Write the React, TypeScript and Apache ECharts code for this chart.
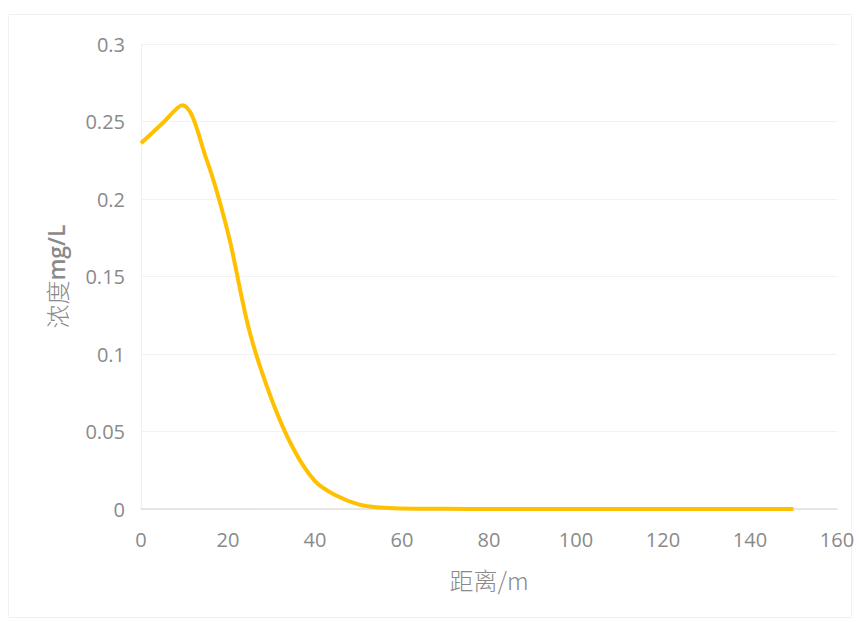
import React, { useEffect, useRef } from "react";
import * as echarts from "echarts";

const distances = [0, 5, 9.5, 15, 20, 25, 30, 35, 40, 45, 50, 55, 60, 70, 80, 90, 100, 110, 120, 130, 140, 150];
const concentrations = [0.236, 0.249, 0.2605, 0.226, 0.178, 0.114, 0.071, 0.039, 0.018, 0.0085, 0.003, 0.0009, 0.0003, 0.0001, 0, 0, 0, 0, 0, 0, 0, 0];
const xTicks = { min: 0, max: 160, interval: 20 };
const yTicks = { min: 0, max: 0.3, interval: 0.05 };
const xName = "距离/m";
const yNameCn = "浓度";
const yNameUnit = "mg/L";

export default function App() {
  const ref = useRef<HTMLDivElement>(null);
  useEffect(() => {
    if (!ref.current) return;
    const chart = echarts.init(ref.current, undefined, { renderer: "svg" });
    const data = distances.map((d, i) => [d, concentrations[i]]);
    const gray = "#8a8a8a";
    const labelFont = { color: gray, fontSize: 20, fontFamily: "'Open Sans', 'Noto Sans', sans-serif" };
    chart.setOption({
      animation: false,
      backgroundColor: "#ffffff",
      graphic: [
        {
          type: "rect",
          shape: { x: 8.5, y: 14.5, width: 843, height: 603 },
          style: { fill: "none", stroke: "#f0f0f0", lineWidth: 1 },
          silent: true,
        },
      ],
      grid: { left: 141, right: 22, top: 44, bottom: 113, containLabel: false },
      xAxis: {
        type: "value",
        min: xTicks.min,
        max: xTicks.max,
        interval: xTicks.interval,
        name: xName,
        nameLocation: "middle",
        nameGap: 58,
        nameTextStyle: { color: gray, fontSize: 24, fontWeight: 300, fontFamily: "'Noto Sans CJK SC', 'Open Sans', sans-serif" },
        axisLine: { show: true, lineStyle: { color: "#e0e0e0", width: 1.5 } },
        axisTick: { show: false },
        axisLabel: { ...labelFont, margin: 20 },
        splitLine: { show: false },
      },
      yAxis: {
        type: "value",
        min: yTicks.min,
        max: yTicks.max,
        interval: yTicks.interval,
        name: "{a|" + yNameCn + "}{b|" + yNameUnit + "}",
        nameLocation: "middle",
        nameGap: 73,
        nameTextStyle: {
          color: gray,
          fontSize: 24,
          rich: {
            a: { color: gray, fontSize: 24, fontWeight: 300, fontFamily: "'Noto Sans CJK SC', sans-serif" },
            b: { color: gray, fontSize: 23, fontWeight: 600, fontFamily: "'Open Sans', sans-serif" },
          },
        },
        axisLine: { show: true, lineStyle: { color: "#f0f0f0", width: 1 } },
        axisTick: { show: false },
        axisLabel: { ...labelFont, margin: 16 },
        splitLine: { show: true, lineStyle: { color: "#f2f2f2", width: 1 } },
      },
      series: [
        {
          type: "line",
          data,
          smooth: 0.35,
          showSymbol: false,
          symbol: "none",
          lineStyle: { color: "#FFC000", width: 4 },
          itemStyle: { color: "#FFC000" },
        },
      ],
    });
    return () => chart.dispose();
  }, []);
  return <div ref={ref} style={{ position: "absolute", left: 0, top: 0, width: 859, height: 622 }} />;
}
